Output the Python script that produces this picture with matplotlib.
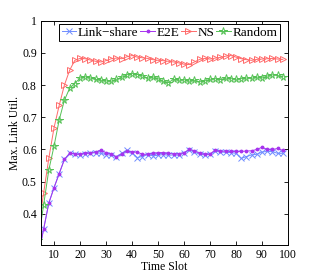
import matplotlib
matplotlib.use("Agg")
import matplotlib.pyplot as plt
import numpy as np

time_slot = list(range(4, 100, 2))

link_share = [0.27, 0.352, 0.433, 0.481, 0.525, 0.569, 0.588, 0.586, 0.584, 0.587,
              0.588, 0.590, 0.588, 0.584, 0.582, 0.578, 0.588, 0.597, 0.590, 0.575,
              0.578, 0.584, 0.580, 0.582, 0.584, 0.582, 0.583, 0.582, 0.590, 0.598,
              0.592, 0.585, 0.583, 0.585, 0.595, 0.592, 0.591, 0.590, 0.588, 0.572,
              0.578, 0.583, 0.585, 0.592, 0.594, 0.593, 0.588, 0.588]
e2e = [0.27, 0.352, 0.433, 0.481, 0.525, 0.569, 0.588, 0.587, 0.585, 0.588,
       0.590, 0.592, 0.598, 0.590, 0.586, 0.576, 0.586, 0.596, 0.592, 0.592,
       0.585, 0.585, 0.588, 0.590, 0.590, 0.588, 0.586, 0.587, 0.590, 0.600,
       0.596, 0.588, 0.585, 0.586, 0.598, 0.594, 0.595, 0.594, 0.594, 0.594,
       0.595, 0.596, 0.600, 0.607, 0.600, 0.600, 0.603, 0.597]
ns = [0.35, 0.464, 0.572, 0.667, 0.737, 0.800, 0.846, 0.877, 0.883, 0.882,
      0.878, 0.874, 0.872, 0.876, 0.882, 0.884, 0.882, 0.888, 0.892, 0.887,
      0.885, 0.883, 0.879, 0.877, 0.876, 0.874, 0.872, 0.869, 0.865, 0.864,
      0.872, 0.880, 0.883, 0.881, 0.884, 0.886, 0.890, 0.892, 0.887, 0.882,
      0.879, 0.877, 0.880, 0.881, 0.882, 0.883, 0.881, 0.880]
rand = [0.32, 0.427, 0.536, 0.610, 0.692, 0.753, 0.790, 0.805, 0.822, 0.826,
        0.822, 0.818, 0.815, 0.813, 0.812, 0.818, 0.824, 0.832, 0.836, 0.833,
        0.829, 0.821, 0.826, 0.820, 0.812, 0.808, 0.818, 0.815, 0.817, 0.812,
        0.815, 0.810, 0.813, 0.818, 0.820, 0.817, 0.822, 0.820, 0.818, 0.820,
        0.822, 0.821, 0.825, 0.822, 0.828, 0.832, 0.830, 0.826]

x_ticks = [10, 20, 30, 40, 50, 60, 70, 80, 90, 100]
y_ticks = [0.4, 0.5, 0.6, 0.7, 0.8, 0.9, 1.0]
y_tick_labels = ["0.4", "0.5", "0.6", "0.7", "0.8", "0.9", "1"]

plt.rcParams["font.family"] = "Liberation Serif"
plt.rcParams["font.size"] = 8.5

fig = plt.figure(figsize=(3.19, 2.77), dpi=100)
ax = fig.add_axes([0.1285, 0.1155, 0.7745, 0.8095])

lw = 0.7
ax.plot(time_slot, link_share, color="#6f8dff", marker="x", markersize=4,
        markeredgewidth=0.7, linewidth=lw, label="Link\u2212share")
ax.plot(time_slot, e2e, color="#a633ee", marker=".", markersize=3.5,
        linewidth=lw, label="E2E")
ax.plot(time_slot, ns, color="#ff6b6b", marker=">", markersize=4.5,
        markerfacecolor="none", markeredgewidth=0.7, linewidth=lw, label="NS")
ax.plot(time_slot, rand, color="#55c155", marker="*", markersize=5.5,
        markerfacecolor="none", markeredgewidth=0.7, linewidth=lw, label="Random")

ax.set_xlim(5, 100)
ax.set_ylim(0.303, 1.0)
ax.set_xticks(x_ticks)
ax.set_yticks(y_ticks)
ax.set_yticklabels(y_tick_labels)
ax.tick_params(direction="in", top=True, right=True, length=3, width=0.6,
               labelsize=8.5, pad=3)
for s in ax.spines.values():
    s.set_linewidth(0.7)

ax.set_xlabel("Time Slot", fontsize=8.5, labelpad=0)
ax.set_ylabel("Max. Link Util.", fontsize=8.5, labelpad=1)

leg = ax.legend(loc="upper center", ncol=4, bbox_to_anchor=(0.52, 0.993),
                fontsize=9.5, handlelength=1.1, handletextpad=0.12,
                columnspacing=0.15, borderpad=0.2, borderaxespad=0.1,
                fancybox=False, framealpha=1)
leg.get_frame().set_edgecolor("black")
leg.get_frame().set_linewidth(0.7)

fig.savefig("out.png", dpi=100)
